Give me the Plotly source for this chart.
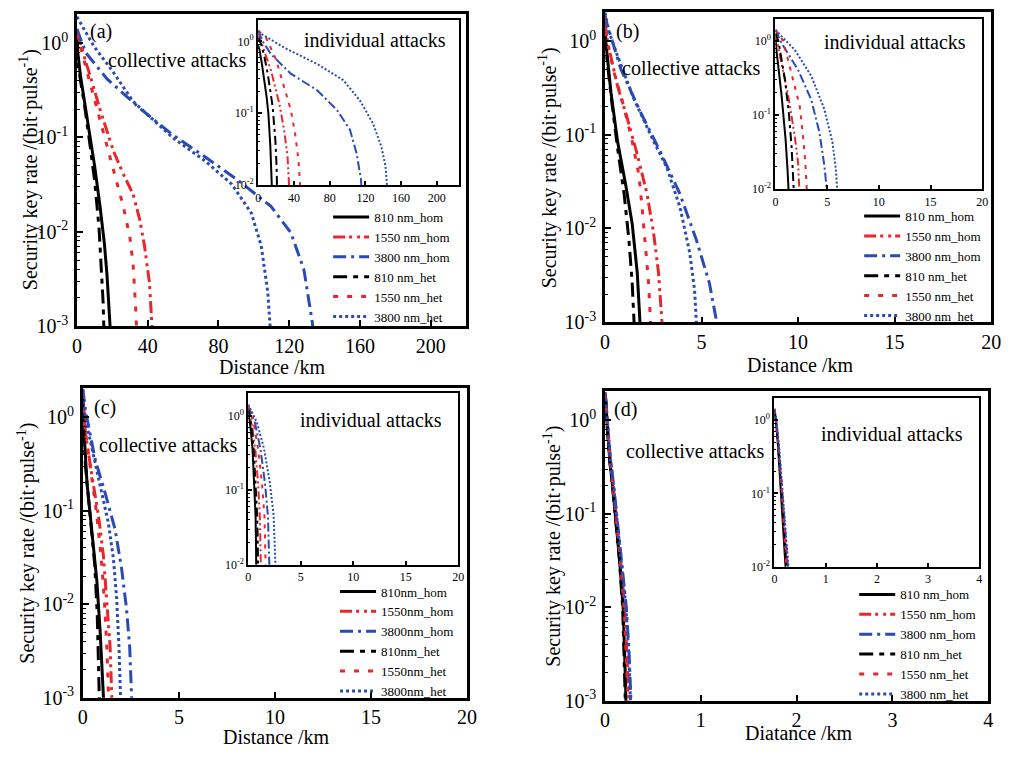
import plotly.graph_objects as go

W, H = 1012, 758
FONT = "Liberation Serif, Times New Roman, serif"
BLACK = "#000000"
RED = "#e8262c"
BLUE = "#2a4bb5"

LABELS = ["810 nm_hom", "1550 nm_hom", "3800 nm_hom", "810 nm_het", "1550 nm_het", "3800 nm_het"]
LABELS_C = ["810nm_hom", "1550nm_hom", "3800nm_hom", "810nm_het", "1550nm_het", "3800nm_het"]

# ---------------- (a) collective attacks ----------------
A_KM_810_HOM = [0, 0.5, 2, 4, 7, 10, 13, 15.5, 17, 18.2, 18.9]
A_RATE_810_HOM = [1.41, 0.79, 0.45, 0.26, 0.11, 0.05, 0.019, 0.0076, 0.0035, 0.0016, 0.00089]
A_KM_1550_HOM = [0, 2, 5, 8, 13, 20.6, 26.2, 31.8, 35.5, 38.2, 41, 42.2, 42.6]
A_RATE_1550_HOM = [1.26, 1.0, 0.63, 0.42, 0.2, 0.072, 0.041, 0.025, 0.0135, 0.0071, 0.0029, 0.00126, 0.00089]
A_KM_3800_HOM = [0, 5, 16.9, 35.5, 54, 72.6, 91.2, 109.7, 120.9, 128.3, 133, 134]
A_RATE_3800_HOM = [1.41, 0.79, 0.42, 0.204, 0.107, 0.062, 0.035, 0.0186, 0.0098, 0.004, 0.00112, 0.00079]
A_KM_810_HET = [0, 0.5, 2, 4, 7, 10, 12.5, 14, 14.8, 15.3]
A_RATE_810_HET = [1.0, 0.63, 0.40, 0.24, 0.095, 0.035, 0.011, 0.004, 0.0018, 0.00089]
A_KM_1550_HET = [0, 2, 5, 10, 15, 18.5, 22.5, 26.2, 29.9, 31.8, 33.1, 33.8]
A_RATE_1550_HET = [1.26, 0.89, 0.56, 0.25, 0.11, 0.063, 0.032, 0.0186, 0.0089, 0.0044, 0.0017, 0.00089]
A_KM_3800_HET = [0, 9.5, 20.6, 31.8, 42.9, 54, 72.6, 87.5, 98.6, 104.2, 107.9, 109.2, 109.6]
A_RATE_3800_HET = [1.9, 0.93, 0.49, 0.24, 0.155, 0.1, 0.056, 0.032, 0.0158, 0.0071, 0.0023, 0.00112, 0.00079]

# (a) individual attacks
AI_KM_810_HOM = [0, 1.5, 4, 7, 9.5, 11.4, 13.6, 15.1, 15.5]
AI_RATE_810_HOM = [0.89, 0.76, 0.5, 0.288, 0.166, 0.1, 0.0347, 0.011, 0.0079]
AI_KM_1550_HOM = [0, 3.3, 8, 14.4, 23.6, 29, 32.8, 34.6, 35]
AI_RATE_1550_HOM = [1.26, 1.0, 0.661, 0.389, 0.138, 0.0589, 0.0257, 0.011, 0.0079]
AI_KM_3800_HOM = [0, 5, 14.4, 36.5, 66, 88, 102.8, 110, 115, 116]
AI_RATE_3800_HOM = [1.41, 1.0, 0.661, 0.355, 0.209, 0.112, 0.0589, 0.0282, 0.0123, 0.0079]
AI_KM_810_HET = [0, 3.3, 7, 10.7, 16.2, 19.2, 20.6, 21.0, 21.2]
AI_RATE_810_HET = [1.12, 0.912, 0.603, 0.355, 0.123, 0.0427, 0.0186, 0.011, 0.0079]
AI_KM_1550_HET = [0, 8.8, 19.9, 29, 36.5, 41.3, 45, 46.8, 47.2]
AI_RATE_1550_HET = [1.41, 1.12, 0.562, 0.234, 0.112, 0.0525, 0.0229, 0.011, 0.0079]
AI_KM_3800_HET = [0, 29, 66, 95.4, 113.8, 128.5, 137.8, 142.5, 144, 144.5]
AI_RATE_3800_HET = [1.35, 0.818, 0.484, 0.288, 0.151, 0.0724, 0.0347, 0.0186, 0.011, 0.0079]

# ---------------- (b) collective attacks ----------------
B_KM_810_HOM = [0, 0.05, 0.31, 0.65, 1.07, 1.41, 1.67, 1.8, 1.84]
B_RATE_810_HOM = [1.41, 0.955, 0.282, 0.0851, 0.0295, 0.0112, 0.0034, 0.0011, 0.00079]
B_KM_1550_HOM = [0, 0.14, 0.65, 1.16, 1.67, 2.18, 2.52, 2.77, 2.94, 2.98]
B_RATE_1550_HOM = [1.58, 0.955, 0.331, 0.148, 0.0617, 0.0234, 0.0089, 0.0034, 0.0011, 0.00079]
B_KM_3800_HOM = [0, 0.05, 0.82, 1.84, 2.86, 3.88, 4.73, 5.41, 5.75, 5.8]
B_RATE_3800_HOM = [1.91, 1.66, 0.501, 0.174, 0.0661, 0.0234, 0.0076, 0.0026, 0.0011, 0.00079]
B_KM_810_HET = [0, 0.05, 0.31, 0.65, 0.99, 1.24, 1.41, 1.5, 1.53]
B_RATE_810_HET = [1.12, 0.813, 0.263, 0.0724, 0.0234, 0.0076, 0.0026, 0.0011, 0.00079]
B_KM_1550_HET = [0, 0.1, 0.48, 1.0, 1.41, 1.75, 1.92, 2.09, 2.26, 2.35, 2.38]
B_RATE_1550_HET = [1.78, 1.0, 0.457, 0.191, 0.0851, 0.038, 0.017, 0.0065, 0.0026, 0.0011, 0.00079]
B_KM_3800_HET = [0, 0.2, 0.65, 1.5, 2.52, 3.2, 3.88, 4.39, 4.64, 4.73, 4.76]
B_RATE_3800_HET = [2.0, 1.26, 0.692, 0.24, 0.0851, 0.0447, 0.017, 0.0055, 0.0022, 0.0011, 0.00079]

# (b) individual attacks
BI_KM_810_HOM = [0, 0.13, 0.6, 0.98, 1.17, 1.3, 1.32]
BI_RATE_810_HOM = [1.12, 0.692, 0.182, 0.0479, 0.0186, 0.0083, 0.0071]
BI_KM_1550_HOM = [0, 0.3, 0.6, 1.24, 1.87, 2.19, 2.33, 2.35]
BI_RATE_1550_HOM = [1.26, 0.794, 0.501, 0.182, 0.0525, 0.0229, 0.0089, 0.0071]
BI_KM_3800_HOM = [0, 0.6, 2.19, 3.46, 4.25, 4.73, 5.0, 5.05]
BI_RATE_3800_HOM = [1.41, 0.933, 0.407, 0.162, 0.0589, 0.0209, 0.0089, 0.0071]
BI_KM_810_HET = [0, 0.29, 0.92, 1.3, 1.56, 1.7, 1.8, 1.82]
BI_RATE_810_HET = [1.26, 1.0, 0.302, 0.107, 0.038, 0.0186, 0.0089, 0.0071]
BI_KM_1550_HET = [0, 0.4, 0.76, 1.56, 2.35, 2.67, 2.89, 3.05, 3.08]
BI_RATE_1550_HET = [1.41, 1.2, 1.0, 0.372, 0.132, 0.0525, 0.0229, 0.0089, 0.0071]
BI_KM_3800_HET = [0, 1.87, 3.46, 4.73, 5.52, 5.84, 6.0, 6.03]
BI_RATE_3800_HET = [1.41, 0.759, 0.339, 0.12, 0.0427, 0.0186, 0.0089, 0.0071]

# ---------------- (c) collective attacks ----------------
C_KM_810_HOM = [0, 0.02, 0.22, 0.48, 0.73, 0.9, 1.03, 1.08, 1.1]
C_RATE_810_HOM = [1.78, 1.0, 0.195, 0.0589, 0.0178, 0.0052, 0.0018, 0.001, 0.00079]
C_KM_1550_HOM = [0, 0.14, 0.48, 0.82, 1.07, 1.25, 1.42, 1.5, 1.52]
C_RATE_1550_HOM = [1.78, 0.661, 0.234, 0.0871, 0.0331, 0.0117, 0.0035, 0.00112, 0.00079]
C_KM_3800_HOM = [0, 0.14, 0.65, 1.16, 1.68, 2.02, 2.27, 2.44, 2.53, 2.56]
C_RATE_3800_HOM = [2.0, 1.17, 0.347, 0.155, 0.0631, 0.024, 0.0091, 0.0035, 0.00112, 0.00079]
C_KM_810_HET = [0, 0.02, 0.14, 0.39, 0.62, 0.75, 0.82, 0.85, 0.87]
C_RATE_810_HET = [1.58, 0.891, 0.295, 0.0871, 0.0263, 0.0078, 0.0028, 0.00112, 0.00079]
C_KM_1550_HET = [0, 0.1, 0.4, 0.7, 0.95, 1.12, 1.25, 1.33, 1.36]
C_RATE_1550_HET = [1.78, 0.794, 0.282, 0.1, 0.0331, 0.0112, 0.0035, 0.00112, 0.00079]
C_KM_3800_HET = [0, 0.05, 0.31, 0.82, 1.33, 1.59, 1.76, 1.88, 1.95, 1.98]
C_RATE_3800_HET = [2.0, 1.26, 0.661, 0.214, 0.0741, 0.0309, 0.0117, 0.0035, 0.00112, 0.00079]

# (c) individual attacks
CI_KM_810_HOM = [0, 0.2, 0.4, 0.58, 0.69, 0.73, 0.75, 0.76]
CI_RATE_810_HOM = [1.12, 0.708, 0.355, 0.126, 0.0447, 0.02, 0.0089, 0.0071]
CI_KM_1550_HOM = [0, 0.37, 0.68, 0.94, 1.1, 1.17, 1.2, 1.21]
CI_RATE_1550_HOM = [1.26, 0.724, 0.331, 0.117, 0.0427, 0.0186, 0.0089, 0.0071]
CI_KM_3800_HOM = [0, 0.63, 1.16, 1.58, 1.87, 1.97, 2.02, 2.03]
CI_RATE_3800_HOM = [1.35, 0.794, 0.355, 0.126, 0.0447, 0.0195, 0.0089, 0.0071]
CI_KM_810_HET = [0, 0.28, 0.52, 0.72, 0.85, 0.9, 0.92, 0.93]
CI_RATE_810_HET = [1.26, 0.759, 0.339, 0.12, 0.0427, 0.0186, 0.0089, 0.0071]
CI_KM_1550_HET = [0, 0.52, 0.95, 1.3, 1.54, 1.62, 1.66, 1.67]
CI_RATE_1550_HET = [1.35, 0.776, 0.347, 0.123, 0.0437, 0.019, 0.0089, 0.0071]
CI_KM_3800_HET = [0, 0.81, 1.49, 2.04, 2.41, 2.54, 2.61, 2.62]
CI_RATE_3800_HET = [1.41, 0.813, 0.363, 0.129, 0.0457, 0.02, 0.0089, 0.0071]

# ---------------- (d) collective attacks ----------------
D_KM_810_HOM = [0, 0.01, 0.025, 0.05, 0.08, 0.11, 0.15, 0.19, 0.208, 0.216, 0.22]
D_RATE_810_HOM = [1.91, 1.51, 0.832, 0.372, 0.195, 0.0912, 0.0339, 0.0098, 0.0033, 0.0014, 0.00079]
D_KM_1550_HOM = [0, 0.01, 0.027, 0.055, 0.086, 0.12, 0.16, 0.205, 0.23, 0.245, 0.25]
D_RATE_1550_HOM = [1.95, 1.55, 0.851, 0.38, 0.2, 0.0933, 0.0347, 0.01, 0.0034, 0.0014, 0.00079]
D_KM_3800_HOM = [0, 0.01, 0.028, 0.057, 0.09, 0.125, 0.17, 0.222, 0.25, 0.268, 0.275]
D_RATE_3800_HOM = [2.0, 1.6, 0.871, 0.389, 0.204, 0.0955, 0.0355, 0.0102, 0.0035, 0.0014, 0.00079]
D_KM_810_HET = [0, 0.01, 0.025, 0.05, 0.08, 0.11, 0.15, 0.185, 0.202, 0.211, 0.215]
D_RATE_810_HET = [1.86, 1.48, 0.813, 0.363, 0.191, 0.0891, 0.0331, 0.0096, 0.0032, 0.0014, 0.00079]
D_KM_1550_HET = [0, 0.01, 0.027, 0.054, 0.084, 0.118, 0.158, 0.2, 0.222, 0.236, 0.241]
D_RATE_1550_HET = [1.93, 1.53, 0.841, 0.376, 0.197, 0.0923, 0.0343, 0.0099, 0.0034, 0.0014, 0.00079]
D_KM_3800_HET = [0, 0.01, 0.028, 0.056, 0.088, 0.123, 0.167, 0.218, 0.246, 0.263, 0.27]
D_RATE_3800_HET = [1.98, 1.58, 0.861, 0.385, 0.202, 0.0944, 0.0351, 0.0101, 0.0035, 0.0014, 0.00079]

# (d) individual attacks
DI_KM_810_HOM = [0, 0.035, 0.07, 0.105, 0.145, 0.18, 0.205, 0.222, 0.23]
DI_RATE_810_HOM = [1.35, 0.871, 0.437, 0.174, 0.0692, 0.0309, 0.0155, 0.0089, 0.0071]
DI_KM_1550_HOM = [0, 0.037, 0.075, 0.112, 0.156, 0.194, 0.221, 0.24, 0.248]
DI_RATE_1550_HOM = [1.38, 0.881, 0.442, 0.176, 0.07, 0.0313, 0.0157, 0.0089, 0.0071]
DI_KM_3800_HOM = [0, 0.042, 0.085, 0.127, 0.176, 0.22, 0.25, 0.27, 0.28]
DI_RATE_3800_HOM = [1.41, 0.891, 0.447, 0.178, 0.0708, 0.0316, 0.0158, 0.0089, 0.0071]
DI_KM_810_HET = [0, 0.038, 0.076, 0.114, 0.158, 0.196, 0.223, 0.241, 0.25]
DI_RATE_810_HET = [1.38, 0.881, 0.44, 0.175, 0.07, 0.0312, 0.0157, 0.0089, 0.0071]
DI_KM_1550_HET = [0, 0.041, 0.082, 0.123, 0.17, 0.212, 0.241, 0.26, 0.27]
DI_RATE_1550_HET = [1.41, 0.891, 0.447, 0.178, 0.0708, 0.0316, 0.0158, 0.0089, 0.0071]
DI_KM_3800_HET = [0, 0.044, 0.088, 0.132, 0.183, 0.228, 0.259, 0.28, 0.29]
DI_RATE_3800_HET = [1.45, 0.9, 0.452, 0.18, 0.0716, 0.032, 0.016, 0.0089, 0.0071]

# ---------------- line styles (same order as LABELS) ----------------
COLORS = [BLACK, RED, BLUE, BLACK, RED, BLUE]
DASH_MAIN = ["solid", "12px,4px,3px,5px,3px,4px", "13px,5px,3px,5px",
             "14px,6px,5px,6px", "5px,9px", "3px,3px"]
DASH_INSET = ["solid", "8px,3px,2px,3px,2px,3px", "9px,3px,2px,3px",
              "9px,4px,3px,4px", "4px,6px", "2px,2px"]

PANELS = [
    dict(tag="(a)", xtitle="Distance /km", labels=LABELS,
         main=[(A_KM_810_HOM, A_RATE_810_HOM), (A_KM_1550_HOM, A_RATE_1550_HOM),
               (A_KM_3800_HOM, A_RATE_3800_HOM), (A_KM_810_HET, A_RATE_810_HET),
               (A_KM_1550_HET, A_RATE_1550_HET), (A_KM_3800_HET, A_RATE_3800_HET)],
         inset=[(AI_KM_810_HOM, AI_RATE_810_HOM), (AI_KM_1550_HOM, AI_RATE_1550_HOM),
                (AI_KM_3800_HOM, AI_RATE_3800_HOM), (AI_KM_810_HET, AI_RATE_810_HET),
                (AI_KM_1550_HET, AI_RATE_1550_HET), (AI_KM_3800_HET, AI_RATE_3800_HET)],
         xr=[0, 220], xt=[0, 40, 80, 120, 160, 200], ixr=[0, 225], ixt=[0, 40, 80, 120, 160, 200],
         box=(73, 468, 14, 331), ibox=(257, 461, 20, 188),
         tagxy=(97, 32), colxy=(175, 61), indxy=(376, 41), xtxy=(272, 372), ytxy=(24, 172),
         leg=(328, 205)),
    dict(tag="(b)", xtitle="Distance /km", labels=LABELS,
         main=[(B_KM_810_HOM, B_RATE_810_HOM), (B_KM_1550_HOM, B_RATE_1550_HOM),
               (B_KM_3800_HOM, B_RATE_3800_HOM), (B_KM_810_HET, B_RATE_810_HET),
               (B_KM_1550_HET, B_RATE_1550_HET), (B_KM_3800_HET, B_RATE_3800_HET)],
         inset=[(BI_KM_810_HOM, BI_RATE_810_HOM), (BI_KM_1550_HOM, BI_RATE_1550_HOM),
                (BI_KM_3800_HOM, BI_RATE_3800_HOM), (BI_KM_810_HET, BI_RATE_810_HET),
                (BI_KM_1550_HET, BI_RATE_1550_HET), (BI_KM_3800_HET, BI_RATE_3800_HET)],
         xr=[0, 20], xt=[0, 5, 10, 15, 20], ixr=[0, 20], ixt=[0, 5, 10, 15, 20],
         box=(609, 1001, 12, 327), ibox=(782, 992, 19, 192),
         tagxy=(632, 32), colxy=(696, 69), indxy=(903, 43), xtxy=(807, 370), ytxy=(551, 170),
         leg=(867, 204)),
    dict(tag="(c)", xtitle="Distance /km", labels=LABELS_C,
         main=[(C_KM_810_HOM, C_RATE_810_HOM), (C_KM_1550_HOM, C_RATE_1550_HOM),
               (C_KM_3800_HOM, C_RATE_3800_HOM), (C_KM_810_HET, C_RATE_810_HET),
               (C_KM_1550_HET, C_RATE_1550_HET), (C_KM_3800_HET, C_RATE_3800_HET)],
         inset=[(CI_KM_810_HOM, CI_RATE_810_HOM), (CI_KM_1550_HOM, CI_RATE_1550_HOM),
                (CI_KM_3800_HOM, CI_RATE_3800_HOM), (CI_KM_810_HET, CI_RATE_810_HET),
                (CI_KM_1550_HET, CI_RATE_1550_HET), (CI_KM_3800_HET, CI_RATE_3800_HET)],
         xr=[0, 20], xt=[0, 5, 10, 15, 20], ixr=[0, 20], ixt=[0, 5, 10, 15, 20],
         box=(79, 469, 394, 708), ibox=(247, 460, 399, 573),
         tagxy=(102, 413), colxy=(165, 452), indxy=(371, 426), xtxy=(276, 748), ytxy=(21, 551),
         leg=(335, 585)),
    dict(tag="(d)", xtitle="Diatance /km", labels=LABELS,
         main=[(D_KM_810_HOM, D_RATE_810_HOM), (D_KM_1550_HOM, D_RATE_1550_HOM),
               (D_KM_3800_HOM, D_RATE_3800_HOM), (D_KM_810_HET, D_RATE_810_HET),
               (D_KM_1550_HET, D_RATE_1550_HET), (D_KM_3800_HET, D_RATE_3800_HET)],
         inset=[(DI_KM_810_HOM, DI_RATE_810_HOM), (DI_KM_1550_HOM, DI_RATE_1550_HOM),
                (DI_KM_3800_HOM, DI_RATE_3800_HOM), (DI_KM_810_HET, DI_RATE_810_HET),
                (DI_KM_1550_HET, DI_RATE_1550_HET), (DI_KM_3800_HET, DI_RATE_3800_HET)],
         xr=[0, 4], xt=[0, 1, 2, 3, 4], ixr=[0, 4], ixt=[0, 1, 2, 3, 4],
         box=(609, 998, 397, 711), ibox=(781, 989, 404, 575),
         tagxy=(630, 416), colxy=(700, 458), indxy=(900, 440), xtxy=(806, 744), ytxy=(556, 554),
         leg=(862, 588)),
]


def px_x(px):
    return px / W


def px_y(py):
    return 1 - py / H


def minor_vals(lo_exp, hi_exp):
    vals = []
    for e in range(lo_exp, hi_exp + 1):
        for m in range(2, 10):
            vals.append(m * 10.0 ** e)
    return vals


def sup_label(e):
    return "10<sup>%s</sup>" % ("-%d" % -e if e < 0 else "%d" % e)


def axkey(kind, n):
    return kind + ("axis" if n == 1 else "axis%d" % n)


def ref(kind, n):
    return kind if n == 1 else "%s%d" % (kind, n)


fig = go.Figure()
layout = dict(width=W, height=H, margin=dict(l=0, r=0, t=0, b=0),
              paper_bgcolor="white", plot_bgcolor="white",
              font=dict(family=FONT, color="black"), annotations=[])


def note(text, xy, size=20, angle=0):
    layout["annotations"].append(dict(
        text=text, x=px_x(xy[0]), y=px_y(xy[1]), xref="paper", yref="paper",
        xanchor="center", yanchor="middle", showarrow=False, textangle=angle,
        font=dict(family=FONT, size=size, color="black")))


for p_idx, P in enumerate(PANELS):
    main_n = p_idx + 1
    ins_n = p_idx + 5
    legend_name = "legend" if p_idx == 0 else "legend%d" % (p_idx + 1)

    x0, x1, y0, y1 = P["box"]
    ix0, ix1, iy0, iy1 = P["ibox"]

    # main axes
    layout[axkey("x", main_n)] = dict(
        domain=[px_x(x0), px_x(x1)], anchor=ref("y", main_n), range=P["xr"],
        tickvals=P["xt"], ticks="inside", ticklen=6, tickwidth=2, tickcolor="black",
        showline=True, linewidth=2.5, linecolor="black", mirror=True,
        showgrid=False, zeroline=False, tickfont=dict(family=FONT, size=20, color="black"))
    layout[axkey("y", main_n)] = dict(
        domain=[px_y(y1), px_y(y0)], anchor=ref("x", main_n), type="log", range=[-3, 0.31],
        tickvals=[1e-3, 1e-2, 1e-1, 1], ticktext=[sup_label(e) for e in (-3, -2, -1, 0)],
        ticks="inside", ticklen=6, tickwidth=2, tickcolor="black", ticklabelstandoff=2,
        minor=dict(ticks="inside", ticklen=3, tickwidth=1, tickcolor="black",
                   tickvals=minor_vals(-3, 0), showgrid=False),
        showline=True, linewidth=2.5, linecolor="black", mirror=True,
        showgrid=False, zeroline=False, tickfont=dict(family=FONT, size=20, color="black"))

    # inset axes
    layout[axkey("x", ins_n)] = dict(
        domain=[px_x(ix0), px_x(ix1)], anchor=ref("y", ins_n), range=P["ixr"],
        tickvals=P["ixt"], ticks="inside", ticklen=4, tickwidth=1.5, tickcolor="black",
        showline=True, linewidth=2, linecolor="black", mirror=True,
        showgrid=False, zeroline=False, tickfont=dict(family=FONT, size=12, color="black"))
    layout[axkey("y", ins_n)] = dict(
        domain=[px_y(iy1), px_y(iy0)], anchor=ref("x", ins_n), type="log", range=[-2, 0.3],
        tickvals=[1e-2, 1e-1, 1], ticktext=[sup_label(e) for e in (-2, -1, 0)],
        ticks="inside", ticklen=4, tickwidth=1.5, tickcolor="black",
        minor=dict(ticks="inside", ticklen=2, tickwidth=1, tickcolor="black",
                   tickvals=minor_vals(-2, 0), showgrid=False),
        showline=True, linewidth=2, linecolor="black", mirror=True,
        showgrid=False, zeroline=False, tickfont=dict(family=FONT, size=12, color="black"))

    for k in range(6):
        km, rate = P["main"][k]
        fig.add_trace(go.Scatter(
            x=km, y=rate, mode="lines", name=P["labels"][k],
            line=dict(color=COLORS[k], width=3, dash=DASH_MAIN[k]),
            xaxis=ref("x", main_n), yaxis=ref("y", main_n),
            legend=legend_name, showlegend=True, hoverinfo="skip"))
    for k in range(6):
        km, rate = P["inset"][k]
        fig.add_trace(go.Scatter(
            x=km, y=rate, mode="lines", name=P["labels"][k],
            line=dict(color=COLORS[k], width=2, dash=DASH_INSET[k]),
            xaxis=ref("x", ins_n), yaxis=ref("y", ins_n),
            showlegend=False, hoverinfo="skip"))

    lx, ly = P["leg"]
    layout[legend_name] = dict(
        x=px_x(lx), y=px_y(ly), xanchor="left", yanchor="top",
        bgcolor="rgba(0,0,0,0)", borderwidth=0, traceorder="normal",
        font=dict(family=FONT, size=13, color="black"), itemwidth=36)

    note(P["tag"], P["tagxy"])
    note("collective attacks", P["colxy"])
    note("individual attacks", P["indxy"])
    note(P["xtitle"], P["xtxy"])
    note("Security key rate /(bit·pulse<sup>-1</sup>)", P["ytxy"], size=20, angle=-90)

fig.update_layout(**layout)
fig.write_html("out.html")
